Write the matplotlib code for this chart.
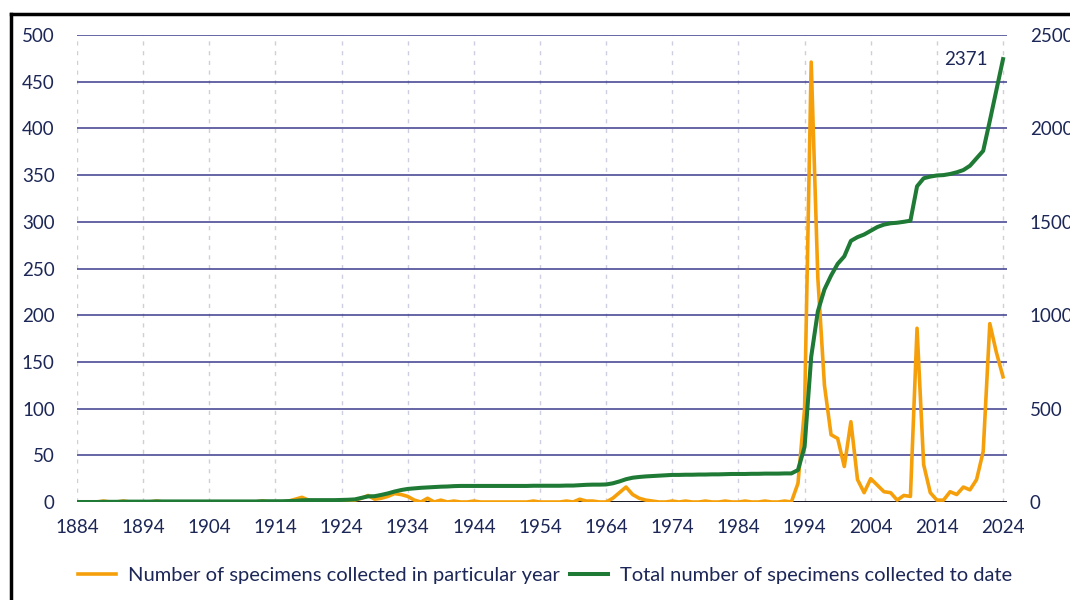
import numpy as np
import matplotlib
matplotlib.use("Agg")
import matplotlib.pyplot as plt
from matplotlib.lines import Line2D

years = list(range(1884, 2025))

# specimens collected in each year (left axis)
per_year = [0, 0, 0, 0, 1, 0, 0, 1, 0, 0,          # 1884-1893
            0, 0, 1, 0, 0, 0, 0, 0, 0, 0,          # 1894-1903
            0, 0, 0, 0, 0, 0, 0, 0, 1, 0,          # 1904-1913
            0, 0, 1, 3, 5, 2, 0, 0, 0, 0,          # 1914-1923
            1, 1, 2, 4, 7, 3, 4, 6, 9, 8,          # 1924-1933
            6, 2, 0, 4, 0, 2, 0, 1, 0, 0,          # 1934-1943
            1, 0, 0, 0, 0, 0, 0, 0, 0, 1,          # 1944-1953
            0, 0, 0, 0, 1, 0, 3, 1, 1, 0,          # 1954-1963
            0, 4, 10, 16, 8, 4, 2, 1, 0, 0,        # 1964-1973
            1, 0, 1, 0, 0, 1, 0, 0, 1, 0,          # 1974-1983
            0, 1, 0, 0, 1, 0, 0, 1, 0, 20,         # 1984-1993
            100, 471, 240, 125, 72, 68, 38, 86, 24, 10,   # 1994-2003
            25, 18, 11, 10, 2, 7, 6, 186, 40, 10,  # 2004-2013
            2, 2, 11, 8, 16, 13, 24, 54, 191, 160,  # 2014-2023
            134]                                   # 2024

# running total (right axis)
total = [0, 0, 0, 0, 1, 1, 1, 2, 2, 2,
         2, 2, 3, 3, 3, 3, 3, 3, 3, 3,
         3, 3, 3, 3, 3, 3, 3, 3, 4, 4,
         4, 4, 5, 6, 9, 10, 10, 10, 10, 10,
         11, 12, 14, 22, 30, 31, 38, 46, 56, 64,
         70, 73, 76, 78, 80, 82, 83, 85, 86, 86,
         86, 86, 86, 86, 86, 86, 86, 86, 86, 87,
         87, 87, 87, 87, 88, 88, 90, 92, 93, 93,
         94, 100, 110, 122, 130, 134, 137, 139, 141, 143,
         145, 145, 146, 146, 147, 147, 148, 148, 149, 150,
         150, 150, 151, 151, 152, 152, 152, 153, 153, 171,
         296, 778, 1020, 1138, 1212, 1275, 1315, 1398, 1418, 1432,
         1452, 1472, 1485, 1492, 1495, 1500, 1506, 1690, 1733, 1742,
         1748, 1750, 1756, 1765, 1777, 1800, 1840, 1880, 2040, 2205,
         2371]

orange = "#F5A00A"
green = "#1E7A34"
navy = "#1C2757"
plt.rcParams["font.family"] = ["Lato", "DejaVu Sans"]

fig = plt.figure(figsize=(10.7, 6), dpi=100)
ax = fig.add_axes([77 / 1070, 98 / 600, 930 / 1070, 467 / 600])
ax2 = ax.twinx()

ax.plot(years, per_year, color=orange, lw=2.6, solid_joinstyle="round",
        label="Number of specimens collected in particular year")
ax2.plot(years, total, color=green, lw=2.9, solid_joinstyle="round",
         label="Total number of specimens collected to date")

ax.set_xlim(1884, 2024.6)
ax.set_ylim(0, 500)
ax2.set_ylim(0, 2500)
ax.set_yticks(range(0, 501, 50))
ax2.set_yticks(range(0, 2501, 500))
ax.set_xticks(range(1884, 2025, 10))

ax.grid(axis="y", color="#3C3C8E", lw=1.1)
ax.grid(axis="x", color="#CDCFE0", lw=1.0, ls=(0, (3, 4)))
ax.set_axisbelow(True)
ax.axhline(0, color="black", lw=1.8, zorder=1)

for a in (ax, ax2):
    for s in a.spines.values():
        s.set_visible(False)
    a.tick_params(length=0, labelsize=13.5, labelcolor=navy)
ax.tick_params(axis="y", pad=16)
ax.tick_params(axis="x", pad=12)
ax2.tick_params(axis="y", pad=16.5)

ax2.annotate("2371", xy=(2024, 2371), xytext=(-11, 0), textcoords="offset points",
             ha="right", va="center", fontsize=13.5, color=navy)

h1, l1 = ax.get_legend_handles_labels()
h2, l2 = ax2.get_legend_handles_labels()
fig.legend(h1 + h2, l1 + l2, loc="center", bbox_to_anchor=(545 / 1070, 25 / 600),
           ncol=2, frameon=False, fontsize=14.5, labelcolor=navy,
           handlelength=1.9, handletextpad=0.6, columnspacing=0.5)

# black frame at top and left of the screenshot
fig.add_artist(Line2D([10.5 / 1070, 1], [1 - 13.5 / 600] * 2, color="black", lw=2.5,
                      transform=fig.transFigure))
fig.add_artist(Line2D([10.5 / 1070] * 2, [0, 1 - 13.5 / 600], color="black", lw=2.5,
                      transform=fig.transFigure))

fig.savefig("out.png", dpi=100)
